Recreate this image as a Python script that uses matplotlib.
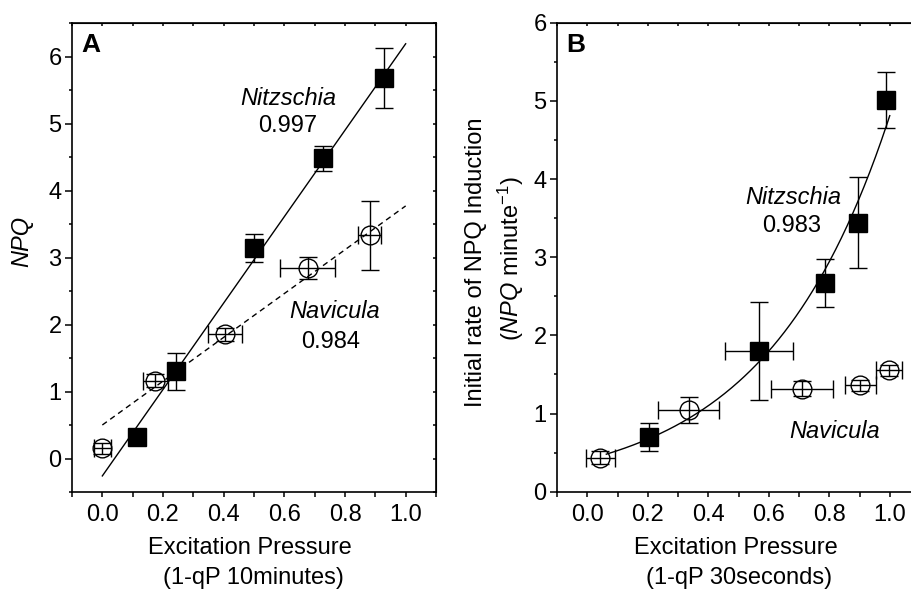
import numpy as np
import matplotlib.pyplot as plt
from matplotlib.ticker import MultipleLocator

plt.rcParams['font.family'] = ['Liberation Sans', 'DejaVu Sans']
plt.rcParams['mathtext.fontset'] = 'custom'
plt.rcParams['mathtext.rm'] = 'Liberation Sans'
plt.rcParams['mathtext.it'] = 'Liberation Sans:italic'

FS = 17

# --- Panel A: NPQ vs excitation pressure (10 minutes) ---
a_nitz_x = [0.114, 0.243, 0.50, 0.728, 0.928]
a_nitz_y = [0.32, 1.30, 3.14, 4.48, 5.68]
a_nitz_yerr = [0.05, 0.28, 0.21, 0.19, 0.45]

a_nav_x = [0.0, 0.175, 0.404, 0.677, 0.881]
a_nav_y = [0.15, 1.16, 1.855, 2.845, 3.33]
a_nav_xerr = [0.028, 0.04, 0.055, 0.09, 0.037]
a_nav_yerr = [0.08, 0.1, 0.1, 0.16, 0.51]

# linear fits: (intercept, slope)
a_nitz_fit = (-0.26, 6.45)
a_nav_fit = (0.50, 3.27)

# --- Panel B: initial rate of NPQ induction (30 seconds) ---
b_nitz_x = [0.204, 0.569, 0.787, 0.894, 0.988]
b_nitz_y = [0.70, 1.80, 2.67, 3.44, 5.01]
b_nitz_xerr = [0.0, 0.112, 0.0, 0.0, 0.0]
b_nitz_yerr = [0.185, 0.63, 0.31, 0.58, 0.355]

b_nav_x = [0.043, 0.335, 0.709, 0.903, 0.997]
b_nav_y = [0.435, 1.045, 1.32, 1.36, 1.556]
b_nav_xerr = [0.048, 0.10, 0.103, 0.052, 0.043]
b_nav_yerr = [0.08, 0.165, 0.1, 0.07, 0.07]

# exponential fit y = a * exp(b * x)
b_nitz_fit = (0.411, 2.46)
b_fit_range = (0.063, 1.0)

fig = plt.figure(figsize=(9.12, 5.9), dpi=100)
axA = fig.add_axes([72 / 912, 98 / 590, 364 / 912, 469 / 590])
axB = fig.add_axes([557 / 912, 98.3 / 590, 363 / 912, 469 / 590])


def style_axis(ax):
    for sp in ax.spines.values():
        sp.set_linewidth(1.2)
    ax.xaxis.set_major_locator(MultipleLocator(0.2))
    ax.xaxis.set_minor_locator(MultipleLocator(0.1))
    ax.yaxis.set_major_locator(MultipleLocator(1))
    ax.yaxis.set_minor_locator(MultipleLocator(0.5))
    ax.tick_params(axis='both', which='both', labelsize=FS, width=1.1)
    ax.tick_params(axis='x', which='major', direction='out', length=3.6, pad=5)
    ax.tick_params(axis='x', which='minor', direction='out', length=3.6)
    ax.tick_params(axis='y', which='major', direction='out', length=5, pad=2.5)
    ax.tick_params(axis='y', which='minor', direction='out', length=2.4)
    # mirror ticks on top and right, short and inward
    top = ax.secondary_xaxis('top')
    top.xaxis.set_major_locator(MultipleLocator(0.1))
    top.tick_params(direction='in', length=2.5, width=1.1, labeltop=False)
    right = ax.secondary_yaxis('right')
    right.yaxis.set_major_locator(MultipleLocator(0.5))
    right.tick_params(direction='in', length=2.5, width=1.1, labelright=False)


eb_kw = dict(ecolor='black', elinewidth=1, capsize=6.5, capthick=1, linestyle='none')

# Panel A
ax = axA
fx = np.array([0.0, 1.0])
ax.plot(fx, a_nitz_fit[0] + a_nitz_fit[1] * fx, color='black', lw=1)
ax.plot(fx, a_nav_fit[0] + a_nav_fit[1] * fx, color='black', lw=1, dashes=(4, 3))
ax.errorbar(a_nitz_x, a_nitz_y, yerr=a_nitz_yerr, marker='s', markersize=12.5,
            mfc='black', mec='black', **eb_kw)
ax.errorbar(a_nav_x, a_nav_y, xerr=a_nav_xerr, yerr=a_nav_yerr, marker='o',
            markersize=13.5, mfc='none', mec='black', mew=1, **eb_kw)
ax.set_xlim(-0.1, 1.1)
ax.set_ylim(-0.5, 6.5)
style_axis(ax)
ax.text(-0.068, 6.17, 'A', fontsize=19, fontweight='bold', ha='left', va='center')
ax.text(0.612, 5.38, 'Nitzschia', fontsize=FS, style='italic', ha='center', va='center')
ax.text(0.612, 4.96, '0.997', fontsize=FS, ha='center', va='center')
ax.text(0.767, 2.19, 'Navicula', fontsize=FS, style='italic', ha='center', va='center')
ax.text(0.754, 1.74, '0.984', fontsize=FS, ha='center', va='center')

# Panel B
ax = axB
cx = np.linspace(b_fit_range[0], b_fit_range[1], 200)
ax.plot(cx, b_nitz_fit[0] * np.exp(b_nitz_fit[1] * cx), color='black', lw=1)
ax.errorbar(b_nitz_x, b_nitz_y, xerr=b_nitz_xerr, yerr=b_nitz_yerr, marker='s',
            markersize=12.5, mfc='black', mec='black', **eb_kw)
ax.errorbar(b_nav_x, b_nav_y, xerr=b_nav_xerr, yerr=b_nav_yerr, marker='o',
            markersize=13.5, mfc='none', mec='black', mew=1, **eb_kw)
ax.set_xlim(-0.1, 1.1)
ax.set_ylim(0, 6)
style_axis(ax)
ax.text(-0.07, 5.71, 'B', fontsize=19, fontweight='bold', ha='left', va='center')
ax.text(0.68, 3.77, 'Nitzschia', fontsize=FS, style='italic', ha='center', va='center')
ax.text(0.674, 3.40, '0.983', fontsize=FS, ha='center', va='center')
ax.text(0.819, 0.77, 'Navicula', fontsize=FS, style='italic', ha='center', va='center')

# axis labels
fig.text(22 / 912, 1 - 241 / 590, 'NPQ', fontsize=FS, style='italic',
         rotation=90, ha='center', va='center')
fig.text(250 / 912, 1 - 548 / 590, 'Excitation Pressure', fontsize=FS, ha='center', va='center')
fig.text(253 / 912, 1 - 578 / 590, '(1-qP 10minutes)', fontsize=FS, ha='center', va='center')
fig.text(736 / 912, 1 - 548 / 590, 'Excitation Pressure', fontsize=FS, ha='center', va='center')
fig.text(739 / 912, 1 - 578 / 590, '(1-qP 30seconds)', fontsize=FS, ha='center', va='center')
fig.text(476 / 912, 1 - 262 / 590, 'Initial rate of NPQ Induction', fontsize=FS,
         rotation=90, ha='center', va='center')
fig.text(511 / 912, 1 - 259 / 590, r'($\mathit{NPQ}$ minute$^{-1}$)', fontsize=FS,
         rotation=90, ha='center', va='center')

fig.savefig('out.png', dpi=100)
